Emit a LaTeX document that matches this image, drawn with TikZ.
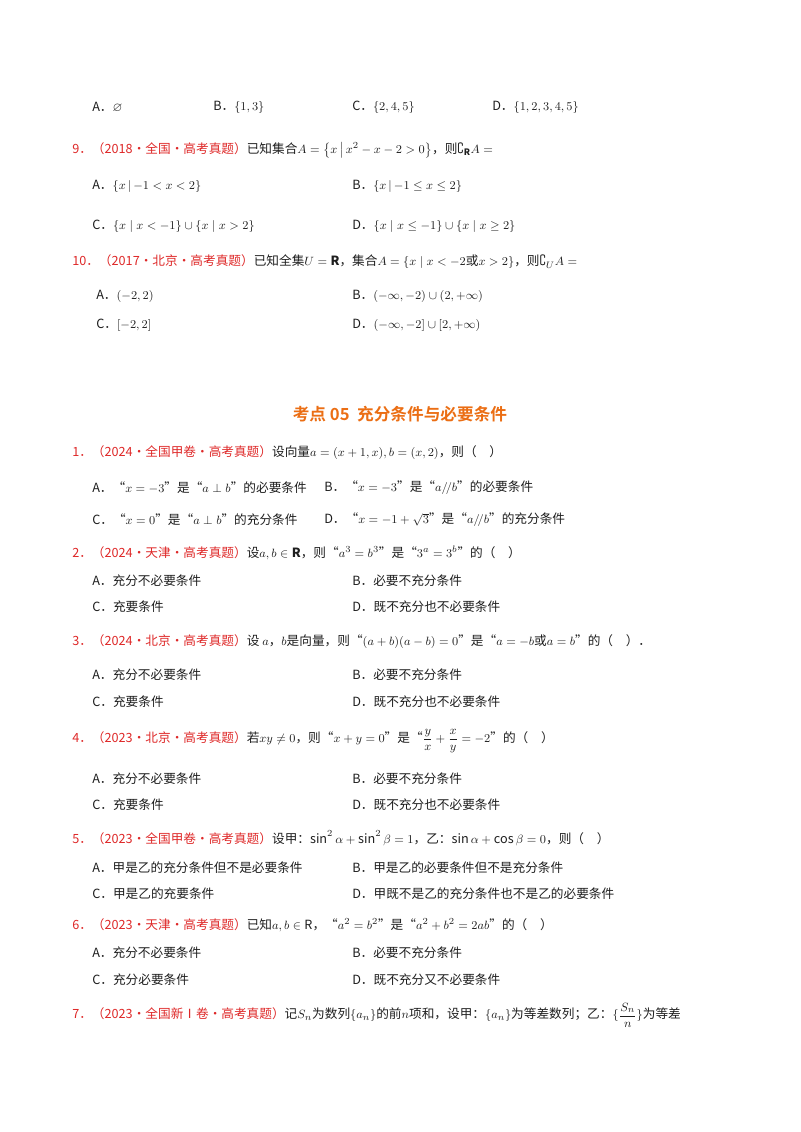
\documentclass[tikz,border=0pt]{standalone}
\usepackage{fontspec}
\usepackage{amsmath,amssymb}
\setmainfont{Noto Sans CJK SC}
\newfontfamily\cjkbold{Noto Sans CJK SC Bold}
\definecolor{qred}{RGB}{222,40,40}
\definecolor{qorange}{RGB}{235,110,20}
\definecolor{qtext}{RGB}{30,30,30}
\usetikzlibrary{positioning}
\begin{document}
\begin{tikzpicture}[
    x=0.75pt, y=-0.75pt,
    line/.style={anchor=west, inner sep=0pt, font=\fontsize{9.5}{11}\selectfont, text=qtext},
    opt/.style={line}
]
\useasboundingbox (0,0) rectangle (800,1132);

% Question 8 options
\node[opt] (q8a) at (92,107) {A．$\varnothing$};
\node[opt] (q8b) at (213,107) {B．$\{1,3\}$};
\node[opt] (q8c) at (352,107) {C．$\{2,4,5\}$};
\node[opt] (q8d) at (492,107) {D．$\{1,2,3,4,5\}$};

% Question 9
\node[line] (q9) at (72,150) {\textcolor{qred}{9．（2018·全国·高考真题）}已知集合$A=\left\{x\,\middle|\,x^2-x-2>0\right\}$，则$\complement_{\mathbf R}A=$};
\node[opt] (q9a) at (92,186) {A．$\left\{x\,\middle|\,-1<x<2\right\}$};
\node[opt] (q9b) at (352,186) {B．$\left\{x\,\middle|\,-1\le x\le 2\right\}$};
\node[opt] (q9c) at (92,226) {C．$\{x\mid x<-1\}\cup\{x\mid x>2\}$};
\node[opt] (q9d) at (352,226) {D．$\{x\mid x\le-1\}\cup\{x\mid x\ge2\}$};

% Question 10
\node[line] (q10) at (72,262) {\textcolor{qred}{10．（2017·北京·高考真题）}已知全集$U=\mathbf R$，集合$A=\{x\mid x<-2\text{或}x>2\}$，则$\complement_U A=$};
\node[opt] (q10a) at (96,296) {A．$(-2,2)$};
\node[opt] (q10b) at (352,296) {B．$(-\infty,-2)\cup(2,+\infty)$};
\node[opt] (q10c) at (96,325) {C．$[-2,2]$};
\node[opt] (q10d) at (352,325) {D．$(-\infty,-2]\cup[2,+\infty)$};

% Section title
\node[font=\fontsize{12.5}{15}\cjkbold, text=qorange, inner sep=0pt] (title) at (400,414) {考点 05\ \ 充分条件与必要条件};

% Question 1
\node[line] (q1) at (72,453) {\textcolor{qred}{1．（2024·全国甲卷·高考真题）}设向量$a=(x+1,x),b=(x,2)$，则（\quad）};
\node[opt] (q1a) at (92,488) {A．“$x=-3$”是“$a\perp b$”的必要条件};
\node[opt] (q1b) at (324,488) {B．“$x=-3$”是“$a/\!/b$”的必要条件};
\node[opt] (q1c) at (92,520) {C．“$x=0$”是“$a\perp b$”的充分条件};
\node[opt] (q1d) at (324,520) {D．“$x=-1+\sqrt3$”是“$a/\!/b$”的充分条件};

% Question 2
\node[line] (q2) at (72,553) {\textcolor{qred}{2．（2024·天津·高考真题）}设$a,b\in\mathbf R$，则“$a^3=b^3$”是“$3^a=3^b$”的（\quad）};
\node[opt] (q2a) at (92,581) {A．充分不必要条件};
\node[opt] (q2b) at (352,581) {B．必要不充分条件};
\node[opt] (q2c) at (92,607) {C．充要条件};
\node[opt] (q2d) at (352,607) {D．既不充分也不必要条件};

% Question 3
\node[line] (q3) at (72,642) {\textcolor{qred}{3．（2024·北京·高考真题）}设\ $a$，$b$是向量，则“$(a+b)(a-b)=0$”是“$a=-b$或$a=b$”的（\quad）．};
\node[opt] (q3a) at (92,675) {A．充分不必要条件};
\node[opt] (q3b) at (352,675) {B．必要不充分条件};
\node[opt] (q3c) at (92,702) {C．充要条件};
\node[opt] (q3d) at (352,702) {D．既不充分也不必要条件};

% Question 4
\node[line] (q4) at (72,741) {\textcolor{qred}{4．（2023·北京·高考真题）}若$xy\ne0$，则“$x+y=0$”是“$\dfrac yx+\dfrac xy=-2$”的（\quad）};
\node[opt] (q4a) at (92,779) {A．充分不必要条件};
\node[opt] (q4b) at (352,779) {B．必要不充分条件};
\node[opt] (q4c) at (92,805) {C．充要条件};
\node[opt] (q4d) at (352,805) {D．既不充分也不必要条件};

% Question 5
\node[line] (q5) at (72,838) {\textcolor{qred}{5．（2023·全国甲卷·高考真题）}设甲：$\sin^2\alpha+\sin^2\beta=1$，乙：$\sin\alpha+\cos\beta=0$，则（\quad）};
\node[opt] (q5a) at (92,868) {A．甲是乙的充分条件但不是必要条件};
\node[opt] (q5b) at (352,868) {B．甲是乙的必要条件但不是充分条件};
\node[opt] (q5c) at (92,894) {C．甲是乙的充要条件};
\node[opt] (q5d) at (352,894) {D．甲既不是乙的充分条件也不是乙的必要条件};

% Question 6
\node[line] (q6) at (72,925) {\textcolor{qred}{6．（2023·天津·高考真题）}已知$a,b\in\mathrm R$，“$a^2=b^2$”是“$a^2+b^2=2ab$”的（\quad）};
\node[opt] (q6a) at (92,953) {A．充分不必要条件};
\node[opt] (q6b) at (352,953) {B．必要不充分条件};
\node[opt] (q6c) at (92,980) {C．充分必要条件};
\node[opt] (q6d) at (352,980) {D．既不充分又不必要条件};

% Question 7
\node[line] (q7) at (72,1015) {\textcolor{qred}{7．（2023·全国新Ⅰ卷·高考真题）}记$S_n$为数列$\{a_n\}$的前$n$项和，设甲：$\{a_n\}$为等差数列；乙：$\{\dfrac{S_n}{n}\}$为等差};
\end{tikzpicture}
\end{document}
